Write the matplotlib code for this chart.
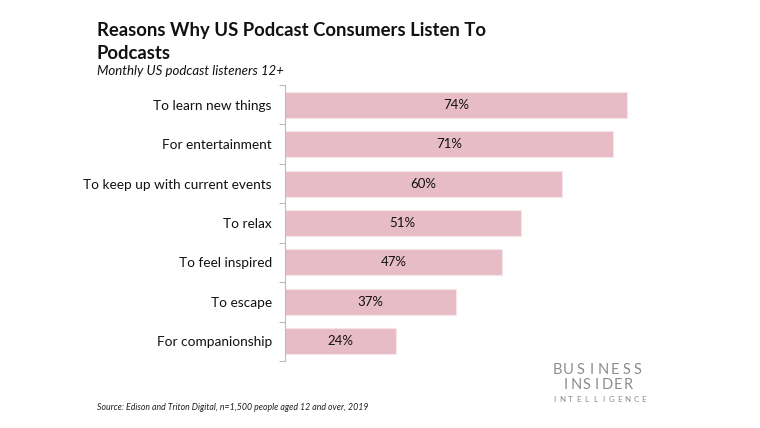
import matplotlib.pyplot as plt

reasons = ['To learn new things', 'For entertainment', 'To keep up with current events',
           'To relax', 'To feel inspired', 'To escape', 'For companionship']
shares = [74, 71, 60, 51, 47, 37, 24]

plt.rcParams['font.family'] = ['Lato', 'DejaVu Sans']

fig = plt.figure(figsize=(7.6, 4.28), dpi=100)
ax = fig.add_axes([285 / 760, 1 - 361 / 428, 462 / 760, 276 / 428])

pos = list(range(len(reasons)))
ax.barh(pos, shares, height=0.66, color='#e8bcc6', edgecolor='#f6e4e8', linewidth=0.8)
for p, v in zip(pos, shares):
    ax.text(v / 2, p, f'{v}%', ha='center', va='center', fontsize=9.5, color='#111111')

ax.set_xlim(0, 100)
ax.set_ylim(len(reasons) - 0.5, -0.5)
ax.set_yticks(pos)
ax.set_yticklabels(reasons, fontsize=9.8, color='#111111')
ax.set_yticks([p - 0.5 for p in range(len(reasons) + 1)], minor=True)
ax.tick_params(axis='y', which='major', length=0, pad=9.5)
ax.tick_params(axis='y', which='minor', length=4, color='#bbbbbb', width=0.8)
ax.set_xticks([])
for s in ['top', 'right', 'bottom']:
    ax.spines[s].set_visible(False)
ax.spines['left'].set_color('#bbbbbb')
ax.spines['left'].set_linewidth(0.8)

fig.text(97 / 760, 1 - 36 / 428, 'Reasons Why US Podcast Consumers Listen To',
         fontsize=13.3, fontweight='bold', color='#111111', va='baseline')
fig.text(97 / 760, 1 - 59 / 428, 'Podcasts',
         fontsize=13.3, fontweight='bold', color='#111111', va='baseline')
fig.text(97 / 760, 1 - 75 / 428, 'Monthly US podcast listeners 12+', fontsize=9.5,
         style='italic', color='#111111', va='baseline')
fig.text(97 / 760, 1 - 410 / 428, 'Source: Edison and Triton Digital, n=1,500 people aged 12 and over, 2019',
         fontsize=6.3, style='italic', color='#222222', va='baseline')


# logo, letter by letter to get the wide tracking
def spaced(word, x0, x1, y, size):
    step = (x1 - x0) / (len(word) - 1)
    for i, ch in enumerate(word):
        fig.text((x0 + i * step) / 760, 1 - y / 428, ch, fontsize=size, color='#8c8c8c',
                 ha='center', va='center')


spaced('BUSINESS', 557, 638, 370, 10.5)
spaced('INSIDER', 566, 628, 385, 10.5)
spaced('INTELLIGENCE', 554, 644, 400, 5.8)

fig.savefig('out.png', dpi=100)
